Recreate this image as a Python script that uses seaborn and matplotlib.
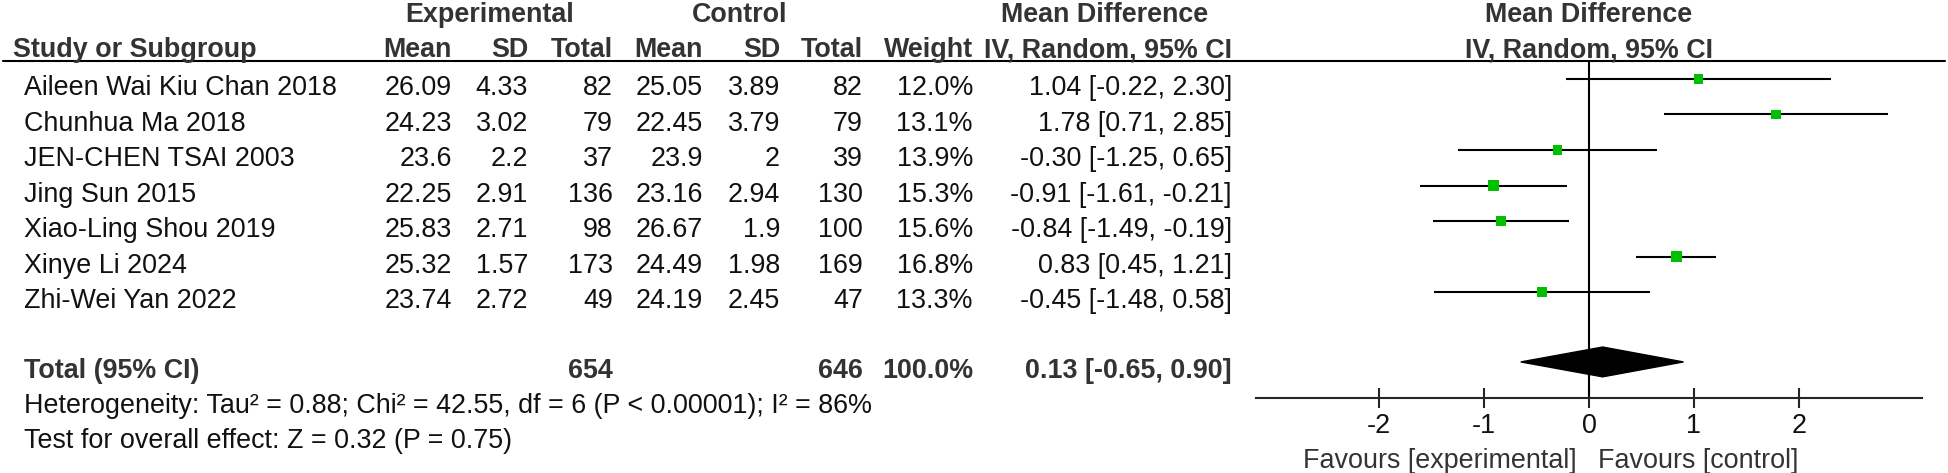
import matplotlib
matplotlib.use("Agg")
import matplotlib.pyplot as plt
import seaborn as sns
import pandas as pd

# study data
studies = ["Aileen Wai Kiu Chan 2018", "Chunhua Ma 2018", "JEN-CHEN TSAI 2003", "Jing Sun 2015",
           "Xiao-Ling Shou 2019", "Xinye Li 2024", "Zhi-Wei Yan 2022"]
exp_mean = [26.09, 24.23, 23.6, 22.25, 25.83, 25.32, 23.74]
exp_sd = [4.33, 3.02, 2.2, 2.91, 2.71, 1.57, 2.72]
exp_n = [82, 79, 37, 136, 98, 173, 49]
ctl_mean = [25.05, 22.45, 23.9, 23.16, 26.67, 24.49, 24.19]
ctl_sd = [3.89, 3.79, 2, 2.94, 1.9, 1.98, 2.45]
ctl_n = [82, 79, 39, 130, 100, 169, 47]
weight = [12.0, 13.1, 13.9, 15.3, 15.6, 16.8, 13.3]
md = [1.04, 1.78, -0.30, -0.91, -0.84, 0.83, -0.45]
ci_low = [-0.22, 0.71, -1.25, -1.61, -1.49, 0.45, -1.48]
ci_high = [2.30, 2.85, 0.65, -0.21, -0.19, 1.21, 0.58]

total_exp = 654
total_ctl = 646
total_weight = 100.0
total_md = 0.13
total_low = -0.65
total_high = 0.90
het_text = "Heterogeneity: Tau² = 0.88; Chi² = 42.55, df = 6 (P < 0.00001); I² = 86%"
effect_text = "Test for overall effect: Z = 0.32 (P = 0.75)"
x_ticks = [-2, -1, 0, 1, 2]

sns.set_style("white")
plt.rcParams["font.family"] = ["Liberation Sans", "DejaVu Sans"]
FS = 19.4
W, H = 1948, 473

fig = plt.figure(figsize=(W / 100, H / 100), dpi=100)
ax0 = fig.add_axes([0, 0, 1, 1])
ax0.set_xlim(0, W)
ax0.set_ylim(H, 0)
ax0.axis("off")

# layout in pixels
row0, step = 79, 35.5
total_row = 7.97
line_y = 61
plot_b = 398
zero_x, unit = 1589, 105
xmax = 3.17
cols = [452, 528, 613, 703, 780, 863, 973, 1232]
base_off = 16


def ypix(r):
    return row0 + step * r


hdr = dict(fontsize=FS, fontweight="bold", color="#333333", va="baseline")
ax0.text(490, 22, "Experimental", ha="center", **hdr)
ax0.text(740, 22, "Control", ha="center", **hdr)
ax0.text(1105, 22, "Mean Difference", ha="center", **hdr)
ax0.text(13, 57, "Study or Subgroup", ha="left", **hdr)
for x, lab in zip(cols, ["Mean", "SD", "Total", "Mean", "SD", "Total", "Weight", "IV, Random, 95% CI"]):
    ax0.text(x, 57, lab, ha="right", **hdr)
ax0.text(zero_x, 22, "Mean Difference", ha="center", **hdr)
ax0.text(zero_x, 57, "IV, Random, 95% CI", ha="center", **hdr)
ax0.plot([3, 1945], [line_y, line_y], color="black", lw=1.5)

body = dict(fontsize=FS, color="#111111", va="baseline")
for i, name in enumerate(studies):
    y = ypix(i) + base_off
    ax0.text(24, y, name, ha="left", **body)
    vals = [f"{exp_mean[i]:g}", f"{exp_sd[i]:g}", f"{exp_n[i]}",
            f"{ctl_mean[i]:g}", f"{ctl_sd[i]:g}", f"{ctl_n[i]}",
            f"{weight[i]:.1f}%", f"{md[i]:.2f} [{ci_low[i]:.2f}, {ci_high[i]:.2f}]"]
    for x, v in zip(cols, vals):
        ax0.text(x, y, v, ha="right", **body)

yt = ypix(total_row) + base_off
ax0.text(24, yt, "Total (95% CI)", ha="left", **hdr)
ax0.text(cols[2], yt, str(total_exp), ha="right", **hdr)
ax0.text(cols[5], yt, str(total_ctl), ha="right", **hdr)
ax0.text(cols[6], yt, f"{total_weight:.1f}%", ha="right", **hdr)
ax0.text(cols[7], yt, f"{total_md:.2f} [{total_low:.2f}, {total_high:.2f}]", ha="right", **hdr)
ax0.text(24, yt + 35, het_text, ha="left", **body)
ax0.text(24, yt + 70.5, effect_text, ha="left", **body)

# forest plot
pl = zero_x - xmax * unit
pr = zero_x + xmax * unit
ax = fig.add_axes([pl / W, 1 - plot_b / H, (pr - pl) / W, (plot_b - line_y) / H])
ax.set_facecolor("none")
ax.set_xlim(-xmax, xmax)
ax.set_ylim((plot_b - row0) / step, (line_y - row0) / step)

df = pd.DataFrame({"md": md, "row": range(len(md)), "weight": weight})
ax.hlines(df["row"], ci_low, ci_high, color="black", lw=1.5, zorder=2)
sns.scatterplot(data=df, x="md", y="row", size="weight", sizes=(45, 60), marker="s",
                color="#00C000", edgecolor="none", legend=False, ax=ax, zorder=3)
h = 0.42
ax.fill([total_low, total_md, total_high, total_md],
        [total_row, total_row - h, total_row, total_row + h], color="black", zorder=3)
ax.axvline(0, color="black", lw=1.5, zorder=1)

for s in ["top", "left", "right"]:
    ax.spines[s].set_visible(False)
ax.spines["bottom"].set_linewidth(1.5)
ax.set_xticks(x_ticks)
ax.set_xticklabels([str(t) for t in x_ticks])
ax.set_yticks([])
ax.tick_params(axis="x", direction="inout", length=13.7, width=1.5, labelsize=FS, pad=4,
               bottom=True, labelcolor="#111111")
ax.set_xlabel("")
ax.set_ylabel("")

ph = plot_b - line_y
tr = ax.get_xaxis_transform()
fav_y = -(468 - plot_b) / ph
ax.text(-0.12, fav_y, "Favours [experimental]", transform=tr, ha="right", va="baseline",
        fontsize=FS, color="#333333")
ax.text(0.09, fav_y, "Favours [control]", transform=tr, ha="left", va="baseline",
        fontsize=FS, color="#333333")

fig.savefig("out.png", dpi=100)
